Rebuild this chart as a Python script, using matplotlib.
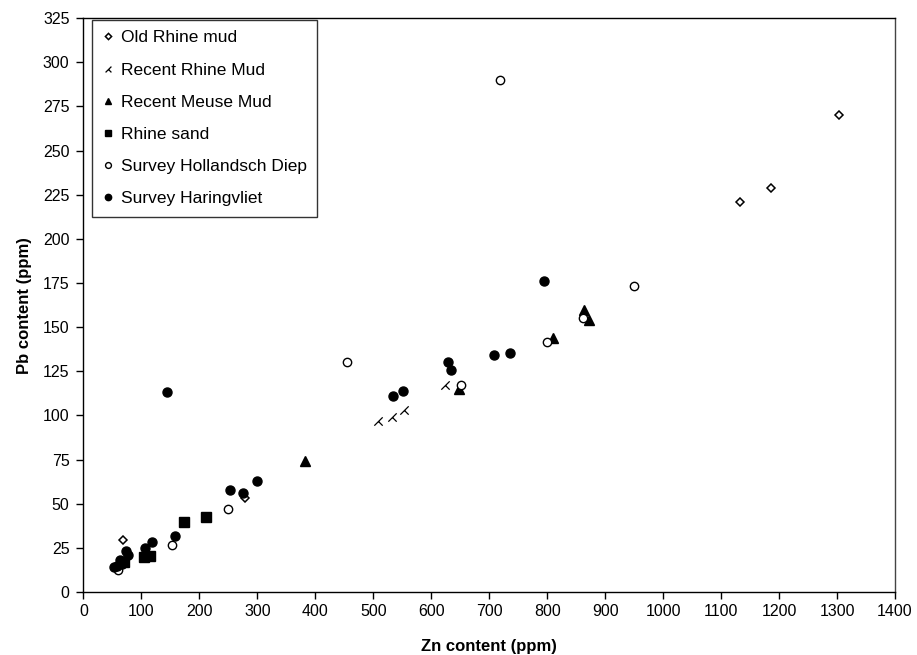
import matplotlib.pyplot as plt
import numpy as np
from matplotlib.path import Path

plt.rcParams['font.family'] = ['Liberation Sans', 'DejaVu Sans']

# Zn / Pb pairs per sample group (ppm)
old_rhine_zn = [68, 279, 1132, 1186, 1303]
old_rhine_pb = [29.5, 53.5, 221, 229, 270]

recent_rhine_zn = [508, 532, 553, 624]
recent_rhine_pb = [97, 99, 103, 117]

meuse_zn = [383, 648, 810, 863, 872]
meuse_pb = [74, 115, 144, 160, 154]

rhine_sand_zn = [70, 105, 115, 173, 211]
rhine_sand_pb = [17, 20, 20.5, 39.5, 42.5]

hd_zn = [60, 152, 250, 455, 652, 718, 800, 862, 950]
hd_pb = [12.5, 26.5, 47, 130.5, 117, 290, 141.5, 155, 173.5]

hv_zn = [53, 58, 63, 66, 74, 76, 107, 119, 158, 145, 252, 275, 300,
         534, 551, 629, 634, 709, 735, 795]
hv_pb = [14, 15, 18, 16, 23, 21, 25, 28.5, 31.5, 113, 58, 56, 63,
         111, 114, 130.5, 126, 134, 135.5, 176]

# half-cross marker: long diagonal plus a short stroke to the lower right
half_cross = Path([(-1, -1), (1, 1), (0, 0), (1, -1)],
                  [Path.MOVETO, Path.LINETO, Path.MOVETO, Path.LINETO])

fig = plt.figure(figsize=(9.17, 6.55), dpi=100)
ax = fig.add_axes([0.091, 0.0962, 0.885, 0.876])

ax.plot(old_rhine_zn, old_rhine_pb, 'D', ms=4.5, mfc='white', mec='black',
        mew=1.1, ls='none', label='Old Rhine mud')
ax.plot(recent_rhine_zn, recent_rhine_pb, marker=half_cross, ms=6, mfc='none',
        mec='black', mew=0.9, ls='none', label='Recent Rhine Mud')
ax.plot(meuse_zn, meuse_pb, '^', ms=6.5, color='black', ls='none',
        label='Recent Meuse Mud')
ax.plot(rhine_sand_zn, rhine_sand_pb, 's', ms=6.5, color='black', ls='none',
        label='Rhine sand')
ax.plot(hd_zn, hd_pb, 'o', ms=6, mfc='white', mec='black', mew=1.0,
        ls='none', label='Survey Hollandsch Diep')
ax.plot(hv_zn, hv_pb, 'o', ms=6.5, color='black', ls='none',
        label='Survey Haringvliet')

ax.set_xlim(0, 1400)
ax.set_ylim(0, 325)
ax.set_xticks(np.arange(0, 1401, 100))
ax.set_yticks(np.arange(0, 326, 25))
ax.tick_params(direction='out', length=5, width=1, labelsize=11.5)
ax.tick_params(axis='x', pad=4)
ax.tick_params(axis='y', pad=5)
for s in ax.spines.values():
    s.set_linewidth(1.0)
ax.spines['right'].set_color('#444444')

ax.set_xlabel('Zn content (ppm)', fontsize=12, fontweight='bold', labelpad=14)
ax.set_ylabel('Pb content (ppm)', fontsize=12, fontweight='bold', labelpad=8)

leg = ax.legend(loc='upper left', bbox_to_anchor=(0.011, 0.997), fontsize=12.5,
                markerscale=0.7, frameon=True, fancybox=False, edgecolor='black',
                handlelength=0.6, handletextpad=0.45, labelspacing=0.98,
                borderpad=0.6, borderaxespad=0)
leg.get_frame().set_linewidth(1.0)

fig.savefig('out.png', dpi=100)
